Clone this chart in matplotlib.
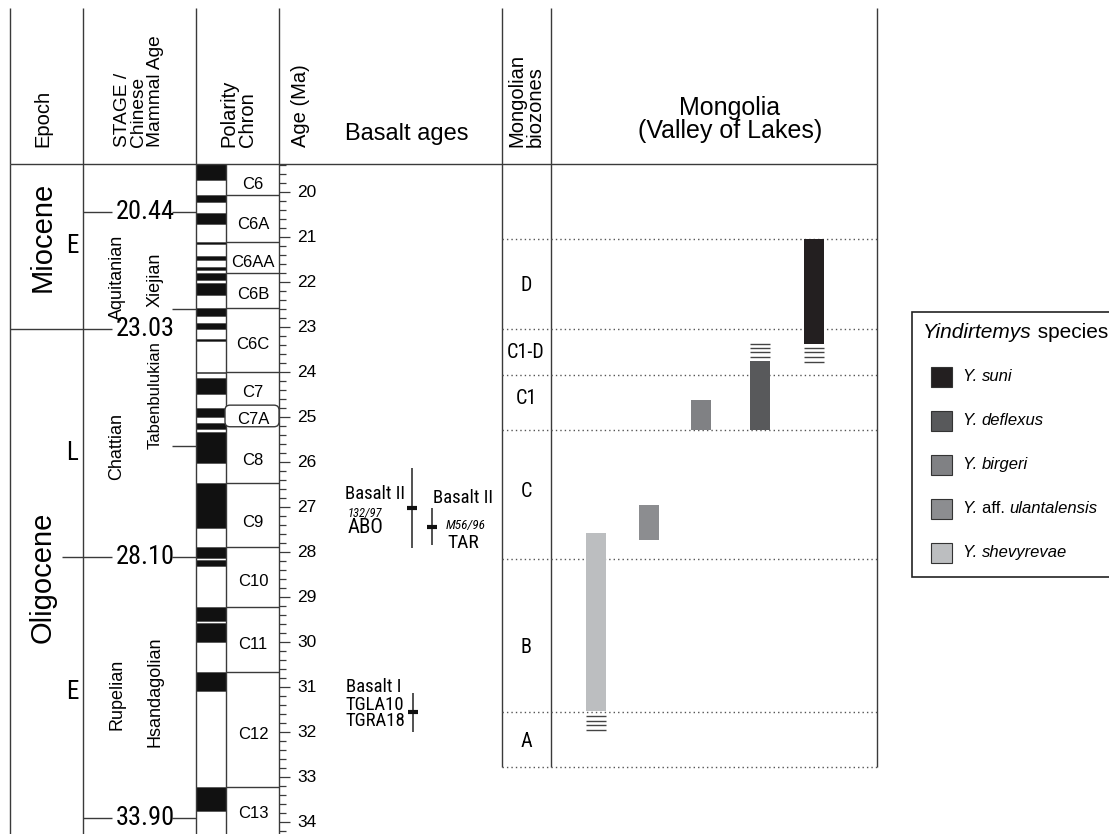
import matplotlib
matplotlib.use('Agg')
import numpy as np
import matplotlib.pyplot as plt
from matplotlib.patches import Rectangle, FancyBboxPatch
from matplotlib import font_manager as fm

# ---------------- data ----------------
age_ticks = list(range(20, 35))
stage_bound_ages = [20.44, 23.03, 28.10, 33.90]
stage_bound_labels = ['20.44', '23.03', '28.10', '33.90']
cma_bound_ages = [22.59, 25.64]

epochs = ['Miocene', 'Oligocene']
epoch_label_ages = [20.98, 28.55]
subepochs = ['E', 'L', 'E']
subepoch_ages = [21.2, 25.8, 31.1]

stages = ['Aquitanian', 'Chattian', 'Rupelian']
stage_label_ages = [21.90, 25.65, 31.15]
cmas = ['Xiejian', 'Tabenbulukian', 'Hsandagolian']
cma_label_ages = [21.94, 24.50, 31.10]

normal_polarity = [(19.37, 19.73), (20.06, 20.22), (20.45, 20.71), (21.10, 21.16),
                   (21.42, 21.50), (21.67, 21.73), (21.79, 21.96), (22.01, 22.28),
                   (22.58, 22.76), (22.91, 23.04), (23.27, 23.30), (23.99, 24.02),
                   (24.13, 24.49), (24.80, 24.99), (25.13, 25.27), (25.32, 26.02),
                   (26.47, 27.47), (27.89, 28.12), (28.17, 28.30), (29.22, 29.52),
                   (29.58, 30.00), (30.65, 31.08), (33.21, 33.76)]
chron_bounds = [20.05, 21.10, 21.79, 22.58, 23.99, 26.47, 27.89, 29.22, 30.65, 33.21]
chron_labels = ['C6', 'C6A', 'C6AA', 'C6B', 'C6C', 'C7', 'C7A', 'C8', 'C9',
                'C10', 'C11', 'C12', 'C13']
chron_label_ages = [19.83, 20.71, 21.55, 22.28, 23.39, 24.46, 25.04, 25.95,
                    27.33, 28.66, 30.05, 32.06, 33.80]
c7a_range = (24.73, 25.21)

basalt_names = ['Basalt II', 'Basalt II', 'Basalt I']
basalt_samples = ['132/97', 'M56/96', 'TGLA10\nTGRA18']
basalt_sites = ['ABO', 'TAR', '']
basalt_age = [27.02, 27.43, 31.55]
basalt_min = [26.13, 27.02, 31.12]
basalt_max = [27.91, 27.84, 31.99]

biozone_bounds = [21.04, 23.04, 24.07, 25.28, 28.16, 31.56, 32.77]
biozone_names = ['D', 'C1-D', 'C1', 'C', 'B', 'A']
biozone_label_ages = [22.08, 23.55, 24.58, 26.64, 30.12, 32.20]

species = ['Y. suni', 'Y. deflexus', 'Y. birgeri', 'Y. aff. ulantalensis', 'Y. shevyrevae']
species_young = [21.04, 23.75, 24.62, 26.96, 27.58]
species_old = [23.37, 25.28, 25.28, 27.73, 31.53]
species_colors = ['#231f20', '#58595b', '#808184', '#8c8d90', '#bcbec0']
species_uncertain = [[23.45, 23.55, 23.65, 23.76],
                     [23.37, 23.47, 23.56, 23.66],
                     [], [],
                     [31.64, 31.75, 31.84, 31.94]]

# ---------------- layout helpers ----------------
Y0, PX = 192.3, 45.0


def Y(px):
    return 20 + (px - Y0) / PX


SANS = ['Liberation Sans', 'DejaVu Sans']
plt.rcParams['font.family'] = SANS


def _is_regular(f):
    w = f.weight
    return (w in (400, 'normal', 'regular', 'book')) or (isinstance(w, int) and 350 <= w <= 450)


def _is_condensed(f):
    s = f.stretch
    if isinstance(s, (int, float)):
        return s < 100
    return str(s) in ('condensed', 'semi-condensed', 'extra-condensed', 'ultra-condensed')


def find_narrow(style):
    prefs = ['Liberation Sans Narrow', 'Arial Narrow', 'Roboto Condensed',
             'Open Sans Condensed', 'Noto Sans Condensed', 'DejaVu Sans Condensed']
    best, rank = None, 999
    for f in fm.fontManager.ttflist:
        if f.style != style or not _is_regular(f):
            continue
        r = None
        if f.name in prefs:
            r = prefs.index(f.name)
        elif _is_condensed(f) and f.name in ('Liberation Sans', 'DejaVu Sans', 'Roboto',
                                             'Noto Sans', 'Open Sans'):
            r = 10
        if r is not None and r < rank:
            best, rank = f.fname, r
    return best


nf = find_narrow('normal')
nfi = find_narrow('italic')
if nf:
    def NP(size):
        return fm.FontProperties(fname=nf, size=size)
    NS = 1.0
else:
    def NP(size):
        return fm.FontProperties(family=SANS, size=size)
    NS = 0.86
if nfi:
    def NPI(size):
        return fm.FontProperties(fname=nfi, size=size)
    NSI = 1.0
else:
    def NPI(size):
        return fm.FontProperties(family=SANS, style='italic', size=size)
    NSI = 0.86

LC = '#3a3a3a'
LW = 1.0

fig = plt.figure(figsize=(11.09, 8.34), dpi=100)
ax = fig.add_axes([0, 0, 1, 1])
ax.set_xlim(0, 1109)
ax.set_ylim(Y(834), Y(0))
ax.axis('off')

top_h, head = Y(8), Y(164)
bottom = Y(834)
zone_bottom = biozone_bounds[-1]

# header lines
for x in [10, 83, 196, 279, 502, 551, 877]:
    ax.vlines(x, top_h, head, color=LC, lw=LW)
ax.hlines(head, 10, 877, color=LC, lw=LW)
# body vertical lines
for x in [10, 83, 196, 226, 279]:
    ax.vlines(x, head, bottom, color=LC, lw=LW)
for x in [502, 551, 877]:
    ax.vlines(x, head, zone_bottom, color=LC, lw=LW)

# header texts
hb = Y(147)
ax.text(43, hb, 'Epoch', rotation=90, ha='center', va='bottom', fontsize=14.5)
ax.text(139, hb, 'STAGE /\nChinese\nMammal Age', rotation=90, ha='center', va='bottom',
        fontsize=13.8, linespacing=0.95, multialignment='left')
ax.text(238, hb, 'Polarity\nChron', rotation=90, ha='center', va='bottom',
        fontsize=14.5, linespacing=0.95, multialignment='left')
ax.text(300, hb, 'Age (Ma)', rotation=90, ha='center', va='bottom', fontsize=14.5)
ax.text(407, Y(134), 'Basalt ages', ha='center', va='center', fontsize=17)
ax.text(526, hb, 'Mongolian\nbiozones', rotation=90, ha='center', va='bottom',
        fontsize=14.5, linespacing=0.95, multialignment='left')
ax.text(730, Y(108), 'Mongolia', ha='center', va='center', fontsize=18)
ax.text(730, Y(131), '(Valley of Lakes)', ha='center', va='center', fontsize=18)

# epoch / stage columns
ax.hlines(stage_bound_ages[1], 10, 112, color=LC, lw=LW)
ax.hlines(stage_bound_ages[2], 62, 112, color=LC, lw=LW)
for a in [stage_bound_ages[0], stage_bound_ages[3]]:
    ax.hlines(a, 83, 112, color=LC, lw=LW)
for a in [stage_bound_ages[0], stage_bound_ages[2], stage_bound_ages[3]]:
    ax.hlines(a, 172, 196, color=LC, lw=LW)
for a in cma_bound_ages:
    ax.hlines(a, 172, 196, color=LC, lw=LW)
for a, lab in zip(stage_bound_ages, stage_bound_labels):
    ax.text(145, a, lab, ha='center', va='center', fontproperties=NP(19 * NS))

for name, a in zip(epochs, epoch_label_ages):
    ax.text(43, a, name, rotation=90, ha='center', va='center', fontsize=21)
for name, a in zip(subepochs, subepoch_ages):
    ax.text(72, a, name, ha='center', va='center', fontproperties=NP(18 * NS))
for name, a in zip(stages, stage_label_ages):
    ax.text(117, a, name, rotation=90, ha='center', va='center', fontsize=13)
for name, a, fs in zip(cmas, cma_label_ages, [13, 12, 13]):
    ax.text(155, a, name, rotation=90, ha='center', va='center', fontsize=fs)

# polarity column
for (y1, y2) in normal_polarity:
    ax.add_patch(Rectangle((196, y1), 30, y2 - y1, facecolor='#111111',
                           edgecolor='#555555', lw=0.6))
ax.hlines(chron_bounds, 226, 279, color=LC, lw=LW)
c7a = FancyBboxPatch((225, c7a_range[0]), 54, c7a_range[1] - c7a_range[0],
                     boxstyle='round,pad=0,rounding_size=5', mutation_aspect=1 / PX,
                     facecolor='white', edgecolor=LC, lw=LW, zorder=3)
ax.add_patch(c7a)
for lab, a in zip(chron_labels, chron_label_ages):
    ax.text(253, a, lab, ha='center', va='center', fontsize=12, zorder=4)

# age axis
minor = np.round(np.arange(19.4, 34.25, 0.2), 2)
minor = [m for m in minor if abs(m - round(m)) > 1e-6]
ax.hlines(minor, 279, 286, color=LC, lw=0.9)
ax.hlines(age_ticks, 279, 290, color=LC, lw=0.9)
for t in age_ticks:
    ax.text(307, t, str(t), ha='center', va='center', fontsize=12.5)

# basalt ages
bx = [412, 432, 413]
for x, a, lo, hi in zip(bx, basalt_age, basalt_min, basalt_max):
    ax.vlines(x, lo, hi, color='#333333', lw=1.2)
    ax.hlines(a, x - 5, x + 5, color='#111111', lw=3)
# Basalt II - ABO
ax.text(405, Y(494), basalt_names[0], ha='right', va='center', fontproperties=NP(13.5 * NS))
ax.text(348, Y(514), basalt_samples[0], ha='left', va='center', fontproperties=NPI(9 * NSI))
ax.text(348, Y(528), basalt_sites[0], ha='left', va='center', fontproperties=NP(15 * NS))
# Basalt II - TAR
ax.text(433, Y(498), basalt_names[1], ha='left', va='center', fontproperties=NP(13.5 * NS))
ax.text(446, Y(526), basalt_samples[1], ha='left', va='center', fontproperties=NPI(9.5 * NSI))
ax.text(447, Y(543), basalt_sites[1], ha='left', va='center', fontproperties=NP(14 * NS))
# Basalt I
ax.text(346, Y(687), basalt_names[2], ha='left', va='center', fontproperties=NP(13.5 * NS))
ax.text(346, Y(713), basalt_samples[2], ha='left', va='center', fontproperties=NP(13.5 * NS),
        linespacing=0.85)

# biozones
ax.hlines(biozone_bounds, 502, 877, color='#555555', lw=1.0, linestyles=(0, (1, 2.2)))
for name, a in zip(biozone_names, biozone_label_ages):
    ax.text(526, a, name, ha='center', va='center', fontproperties=NP(14.5 * NS))

# species ranges
bar_x = [814, 760, 701, 649, 596]
bw = 19.5
for x, y1, y2, c, unc in zip(bar_x, species_young, species_old, species_colors, species_uncertain):
    ax.add_patch(Rectangle((x - bw / 2, y1), bw, y2 - y1, facecolor=c, edgecolor='none', zorder=3))
    if unc:
        ax.hlines(unc, x - bw / 2, x + bw / 2, color='#444444', lw=1.0, zorder=3)

# legend (manual, box runs off the right edge)
ax.add_patch(Rectangle((912, Y(312)), 240, Y(577) - Y(312), facecolor='white',
                       edgecolor='#222222', lw=1.2, clip_on=False))
t1 = ax.text(923, Y(333), 'Yindirtemys', style='italic', ha='left', va='center', fontsize=15)
ax.annotate(' species', xy=(1, 0.5), xycoords=t1, ha='left', va='center', fontsize=15)
leg_y = [377, 421, 465, 509, 553]
for sp, c, yy in zip(species, species_colors, leg_y):
    ax.add_patch(Rectangle((931, Y(yy - 10)), 21, Y(yy + 10) - Y(yy - 10), facecolor=c,
                           edgecolor='#333333', lw=0.8))
    words = sp.split(' ')
    prev = None
    for i, w in enumerate(words):
        txt = w if i == len(words) - 1 else w + ' '
        st = 'normal' if w == 'aff.' else 'italic'
        if prev is None:
            prev = ax.text(963, Y(yy), txt, style=st, ha='left', va='center', fontsize=12)
        else:
            prev = ax.annotate(txt, xy=(1, 0.5), xycoords=prev, style=st,
                               ha='left', va='center', fontsize=12)

fig.savefig('out.png', dpi=100)
